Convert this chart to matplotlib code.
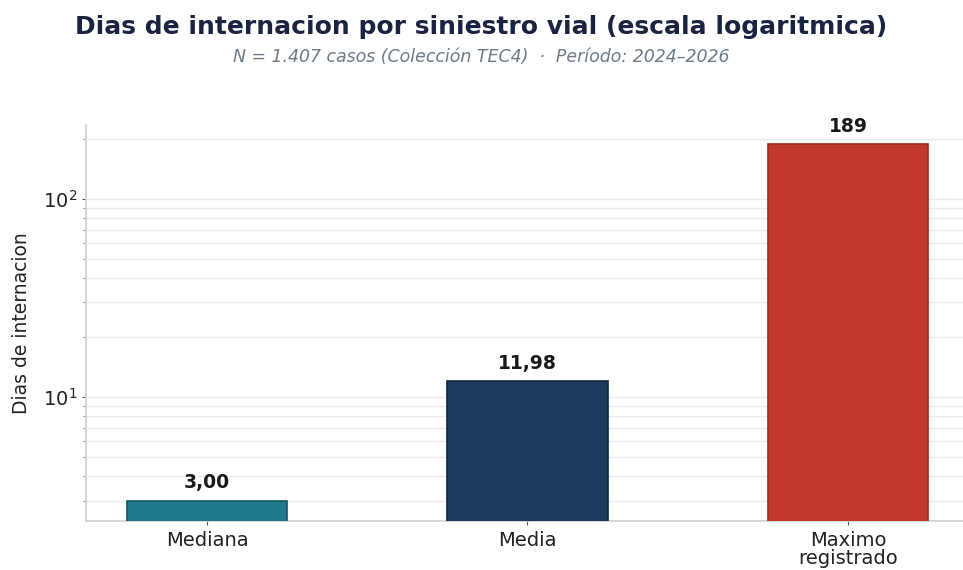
import matplotlib

matplotlib.use("Agg")
import matplotlib.pyplot as plt
from matplotlib.ticker import LogLocator, NullFormatter

categories = ["Mediana", "Media", "Maximo\nregistrado"]
values = [3.00, 11.98, 189]
labels = ["3,00", "11,98", "189"]
colors = ["#1f7a8c", "#1b3a5c", "#c0392b"]
edges = ["#155866", "#12283f", "#a02a1f"]

fig = plt.figure(figsize=(9.63, 5.70), dpi=100)
ax = fig.add_axes([0.0893, 0.086, 0.9107, 0.695])

ax.bar(range(len(values)), values, width=0.5, color=colors, edgecolor=edges,
       linewidth=1.2, zorder=3)
ax.set_yscale("log")
ax.set_ylim(min(values) * 0.79, max(values) * 1.25)
ax.set_xlim(-0.3775, 2.359)

for i, (v, lab) in enumerate(zip(values, labels)):
    ax.annotate(lab, (i, v), xytext=(0, 6), textcoords="offset points",
                ha="center", va="bottom", fontsize=13.5, fontweight="bold",
                color="#1a1a1a")

ax.yaxis.set_minor_locator(LogLocator(base=10, subs=range(2, 10)))
ax.yaxis.set_minor_formatter(NullFormatter())
ax.grid(axis="y", which="both", color="#ebebeb", linewidth=1.0, zorder=0)
ax.set_axisbelow(True)

ax.set_xticks(range(len(values)))
ax.set_xticklabels(categories, fontsize=14, color="#222222", linespacing=0.95)
ax.tick_params(axis="y", labelsize=14, colors="#222222", length=3, color="#555555")
ax.tick_params(axis="y", which="minor", length=2, color="#777777")
ax.tick_params(axis="x", length=3, color="#555555", pad=4)
ax.set_ylabel("Dias de internacion", fontsize=13.5, color="#222222", labelpad=8)

for side in ("top", "right"):
    ax.spines[side].set_visible(False)
for side in ("left", "bottom"):
    ax.spines[side].set_color("#d0d0d0")
    ax.spines[side].set_linewidth(1.2)

fig.text(0.5, 0.953, "Dias de internacion por siniestro vial (escala logaritmica)",
         ha="center", va="center", fontsize=18, fontweight="bold", color="#1a2340")
fig.text(0.5, 0.9, "N = 1.407 casos (Colección TEC4)  ·  Período: 2024–2026",
         ha="center", va="center", fontsize=12.5, style="italic", color="#6b7b8a")

fig.savefig("out.png", dpi=100)
plt.close(fig)
